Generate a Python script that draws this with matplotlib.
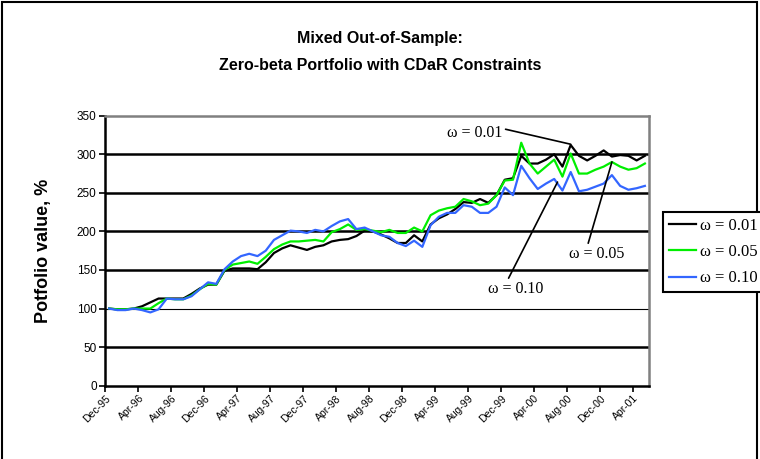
import matplotlib.pyplot as plt
from matplotlib.patches import Rectangle

# monthly portfolio values, Dec-95 .. May-01
w001 = [100, 99, 99, 100, 103, 108, 113, 113, 113, 113, 119, 126, 131, 131, 149, 152,
        152, 152, 151, 160, 172, 178, 182, 179, 176, 180, 182, 187, 189, 190, 194, 201,
        200, 196, 191, 185, 185, 195, 187, 209, 217, 222, 229, 238, 237, 242, 237, 247,
        267, 269, 298, 288, 288, 293, 300, 284, 312, 298, 292, 298, 305, 297, 299, 298,
        292, 298]
w005 = [100, 99, 99, 100, 100, 100, 107, 113, 112, 112, 117, 125, 132, 131, 150, 157,
        159, 161, 158, 167, 177, 183, 187, 187, 188, 189, 187, 199, 203, 209, 202, 203,
        201, 199, 202, 198, 198, 205, 200, 221, 227, 230, 232, 242, 239, 234, 236, 247,
        266, 267, 315, 288, 275, 284, 293, 271, 301, 275, 275, 280, 284, 290, 284, 280,
        282, 288]
w010 = [100, 98, 98, 100, 98, 95, 99, 113, 112, 112, 116, 125, 134, 132, 151, 161,
        168, 171, 168, 175, 189, 195, 201, 200, 198, 202, 200, 207, 213, 216, 203, 205,
        200, 195, 193, 185, 181, 188, 180, 208, 219, 224, 224, 234, 232, 224, 224, 232,
        257, 247, 285, 269, 255, 262, 268, 253, 277, 252, 254, 258, 262, 273, 259, 254,
        256, 259]

tick_labels = ['Dec-95', 'Apr-96', 'Aug-96', 'Dec-96', 'Apr-97', 'Aug-97', 'Dec-97',
               'Apr-98', 'Aug-98', 'Dec-98', 'Apr-99', 'Aug-99', 'Dec-99', 'Apr-00',
               'Aug-00', 'Dec-00', 'Apr-01']
series_names = ['ω = 0.01', 'ω = 0.05', 'ω = 0.10']
colors = ['black', '#00ee00', '#3366ff']

serif = ['Liberation Serif', 'DejaVu Serif']
sans = ['Liberation Sans', 'DejaVu Sans']

fig = plt.figure(figsize=(7.6, 4.59), dpi=100)
ax = fig.add_axes([105 / 760, 1 - 385.7 / 459, 544 / 760, 270 / 459])

x = list(range(len(w001)))
lines = []
for vals, c, name in zip([w001, w005, w010], colors, series_names):
    ln, = ax.plot(x, vals, color=c, lw=1.6, label=name)
    lines.append(ln)

ax.set_xlim(-0.5, len(x) - 0.5)
ax.set_ylim(0, 350)

# horizontal gridlines (the 100 line is thinner in the original)
for g in [50, 100, 150, 200, 250, 300]:
    ax.axhline(g, color='black', lw=0.8 if g == 100 else 1.8, zorder=0.5)

ax.set_yticks(range(0, 351, 50))
ax.tick_params(axis='y', direction='out', length=4, width=1.2, labelsize=8.5, pad=2)
for t in ax.get_yticklabels():
    t.set_family(sans)

# ticks on category boundaries, labels on category centres
ax.set_xticks([i - 0.5 for i in range(0, 65, 4)])
ax.set_xticklabels([])
ax.tick_params(axis='x', which='major', direction='out', length=4, width=1.2)
ax.set_xticks(range(0, 65, 4), minor=True)
ax.set_xticklabels(tick_labels, minor=True, rotation=45, ha='right', va='center',
                   rotation_mode='anchor', fontsize=7.5, family=sans)
ax.tick_params(axis='x', which='minor', length=0, pad=8)

for s in ['left', 'bottom']:
    ax.spines[s].set_linewidth(1.8)
for s in ['top', 'right']:
    ax.spines[s].set_color('#808080')
    ax.spines[s].set_linewidth(1.8)

ax.set_ylabel('Potfolio value, %', fontsize=13, fontweight='bold', family=sans, labelpad=18)

fig.text(0.5, 1 - 38 / 459, 'Mixed Out-of-Sample:', ha='center', va='center',
         fontsize=11.5, fontweight='bold', family=sans)
fig.text(0.5, 1 - 65 / 459, 'Zero-beta Portfolio with CDaR Constraints', ha='center',
         va='center', fontsize=11.5, fontweight='bold', family=sans)

# callouts
arrow = dict(arrowstyle='-', color='black', lw=1.2, shrinkA=0, shrinkB=0)
ax.annotate(series_names[0], xy=(56, 313), xytext=(44.4, 327.6), ha='center', va='center',
            fontsize=11.5, family=serif, arrowprops=dict(arrow, relpos=(1.03, 0.75)))
ax.annotate(series_names[1], xy=(61, 290), xytext=(59.1, 170.7), ha='center', va='center',
            fontsize=11.5, family=serif, arrowprops=dict(arrow, relpos=(0.34, 1.0)))
ax.annotate(series_names[2], xy=(54.4, 264), xytext=(49.3, 125.4), ha='center', va='center',
            fontsize=11.5, family=serif, arrowprops=dict(arrow, relpos=(0.35, 1.0)))

leg = fig.legend(handles=lines, loc='upper left', bbox_to_anchor=(663 / 760, 1 - 212 / 459),
                 frameon=True, fancybox=False, framealpha=1, edgecolor='black',
                 prop={'family': serif, 'size': 12}, handlelength=1.6, handletextpad=0.3,
                 labelspacing=0.62, borderpad=0.35, borderaxespad=0)
leg.get_frame().set_linewidth(1.5)

fig.patches.append(Rectangle((2 / 760, -0.05), 755 / 760, 1 - 2 / 459 + 0.05,
                             transform=fig.transFigure, fill=False, lw=1.5, ec='black'))

fig.savefig('out.png', dpi=100)
